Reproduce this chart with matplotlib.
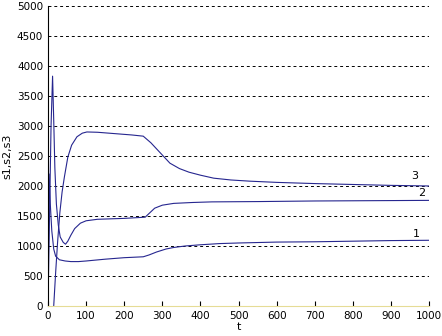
import matplotlib.pyplot as plt

t1 = [0, 3, 6, 10, 15, 20, 30, 45, 60, 80, 100, 150, 200, 250, 265, 285, 310, 330, 360, 400, 450, 500, 600, 700, 800, 900, 1000]
s1 = [0, 2200, 1700, 1250, 950, 830, 770, 750, 740, 740, 750, 780, 805, 820, 850, 900, 950, 975, 1000, 1020, 1040, 1050, 1065, 1070, 1080, 1090, 1095]

t2 = [0, 4, 8, 12, 15, 18, 22, 27, 32, 40, 46, 52, 60, 70, 85, 100, 130, 200, 255, 265, 280, 300, 330, 380, 430, 550, 700, 850, 1000]
s2 = [0, 1500, 3000, 3830, 3100, 2300, 1700, 1350, 1150, 1060, 1030, 1080, 1180, 1290, 1380, 1420, 1445, 1460, 1480, 1540, 1630, 1680, 1710, 1725, 1735, 1740, 1750, 1755, 1760]

t3 = [0, 6, 11, 15, 20, 25, 31, 37, 43, 52, 62, 76, 90, 102, 130, 180, 220, 250, 270, 295, 320, 345, 370, 400, 435, 480, 530, 600, 700, 800, 900, 1000]
s3 = [0, -600, -300, 0, 550, 1050, 1550, 1900, 2150, 2480, 2680, 2820, 2880, 2900, 2895, 2870, 2850, 2830, 2720, 2550, 2380, 2290, 2230, 2180, 2130, 2100, 2080, 2060, 2040, 2025, 2010, 2000]

labels = ['1', '2', '3']
label_pos = [(968, 1200), (982, 1880), (963, 2170)]

col = '#26268f'

fig = plt.figure(figsize=(4.42, 3.36), dpi=100)
ax = fig.add_axes([0.1086, 0.0893, 0.862, 0.893])

for t, s in [(t1, s1), (t2, s2), (t3, s3)]:
    ax.plot(t, s, color=col, lw=0.8)

for lab, (x, y) in zip(labels, label_pos):
    ax.text(x, y, lab, fontsize=8, ha='center', va='center')

ax.set_xlim(0, 1000)
ax.set_ylim(0, 5000)
ax.set_xticks(range(0, 1001, 100))
ax.set_yticks(range(0, 5001, 500))
ax.yaxis.grid(True, color='black', linestyle=(0, (3, 3)), lw=0.7)
ax.set_axisbelow(True)

ax.spines['top'].set_visible(False)
ax.spines['right'].set_visible(False)
ax.spines['bottom'].set_color('#e6dc96')
ax.spines['left'].set_color('black')
ax.spines['left'].set_linewidth(0.8)
ax.tick_params(direction='in', length=3.5, labelsize=7.5, width=0.8)
ax.tick_params(axis='y', length=0)

ax.set_xlabel('t', fontsize=8, labelpad=1)
ax.set_ylabel('s1,s2,s3', fontsize=8, labelpad=3)

fig.savefig('out.png', dpi=100)
